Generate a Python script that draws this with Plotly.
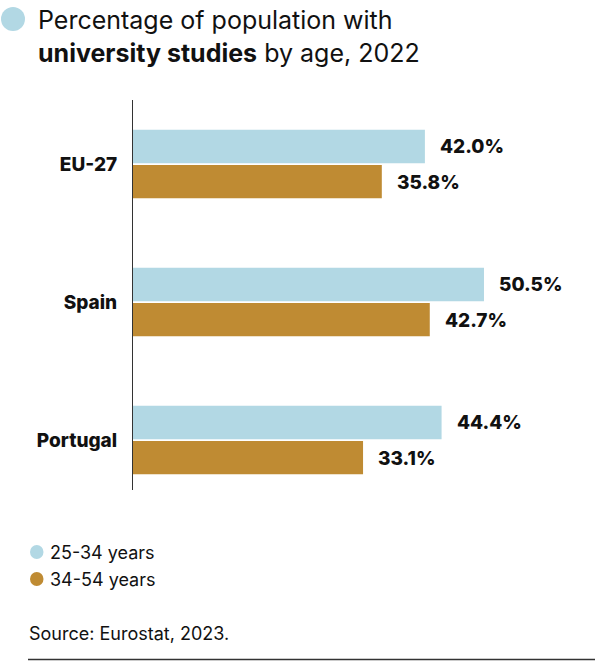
import plotly.graph_objects as go

# Data
countries = ['EU-27', 'Spain', 'Portugal']
age_25_34 = [42.0, 50.5, 44.4]
age_34_54 = [35.8, 42.7, 33.1]
series_names = ['25-34 years', '34-54 years']
colors = ['#b2d8e4', '#bf8b33']

FONT = 'Inter'
INK = '#111111'
W, H = 595, 661
L, T, B = 133, 100, 171          # plot box in page pixels
PW, PH = W - L, H - T - B


# page pixel -> paper helpers
def px(x):
    return (x - L) / PW


def py(y):
    return (H - B - y) / PH


fig = go.Figure()
for name, vals, col in zip(series_names, [age_25_34, age_34_54], colors):
    fig.add_trace(go.Bar(
        y=countries, x=vals, name=name, orientation='h',
        marker=dict(color=col, line=dict(width=0)),
        hoverinfo='skip', showlegend=False
    ))

# value labels next to bar ends
annotations = []
for vals, shift in [(age_25_34, 18), (age_34_54, -18)]:
    for c, v in zip(countries, vals):
        annotations.append(dict(
            x=v, y=c, xref='x', yref='y', text=f'{v:.1f}%',
            showarrow=False, xanchor='left', yanchor='middle',
            xshift=13, yshift=shift,
            font=dict(family=FONT, size=19, color=INK, weight=800)
        ))

# title
annotations.append(dict(
    x=px(36), y=py(3), xref='paper', yref='paper', xanchor='left', yanchor='top',
    align='left', showarrow=False,
    text='Percentage of population with<br><b>university studies</b> by age, 2022',
    font=dict(family=FONT, size=25, color=INK)
))

# legend
for i, name in enumerate(series_names):
    cy = 552 + i * 27
    annotations.append(dict(
        x=px(48), y=py(cy), xref='paper', yref='paper', xanchor='left', yanchor='middle',
        showarrow=False, text=name, font=dict(family=FONT, size=18, color=INK)
    ))

# source
annotations.append(dict(
    x=px(27), y=py(633), xref='paper', yref='paper', xanchor='left', yanchor='middle',
    showarrow=False, text='Source: Eurostat, 2023.',
    font=dict(family=FONT, size=18, color=INK)
))

shapes = [
    dict(type='circle', xref='paper', yref='paper', x0=px(1), x1=px(25), y0=py(31), y1=py(7),
         fillcolor=colors[0], line=dict(width=0)),
    dict(type='line', xref='paper', yref='paper', x0=px(28), x1=1, y0=py(659.5), y1=py(659.5),
         line=dict(color='#333333', width=1.5)),
]
for i, col in enumerate(colors):
    cy = 552 + i * 27
    shapes.append(dict(type='circle', xref='paper', yref='paper',
                       x0=px(30), x1=px(43.5), y0=py(cy + 7), y1=py(cy - 7),
                       fillcolor=col, line=dict(width=0)))

fig.update_layout(
    width=W, height=H,
    margin=dict(l=L, r=0, t=T, b=B),
    paper_bgcolor='white', plot_bgcolor='white',
    barmode='group', bargap=0.49, bargroupgap=0.05,
    xaxis=dict(range=[0, PW / 6.95], visible=False),
    yaxis=dict(range=[2.362, -0.464], showline=True, linecolor='#333333', linewidth=1,
               showgrid=False, zeroline=False, ticks='', ticklabelstandoff=11,
               tickfont=dict(family=FONT, size=19, color=INK, weight=800)),
    annotations=annotations,
    shapes=shapes,
)

# drop the default body margin so the figure fills the window
fig.write_html('out.html', config={'displayModeBar': False},
               post_script="document.body.style.margin='0px';")
